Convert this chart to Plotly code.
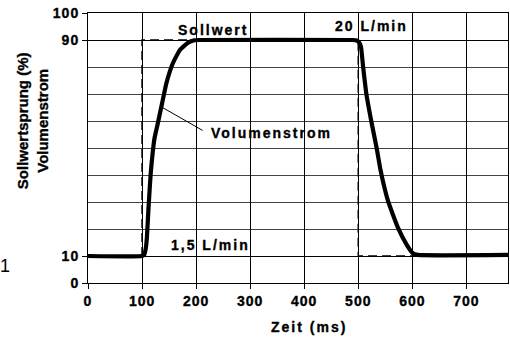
import plotly.graph_objects as go

# Volumenstrom (measured flow) curve, % vs ms
flow_t = [0, 100, 104, 107, 109, 112, 116, 119, 123, 129, 137, 145, 157, 170, 185, 197, 205,
          490, 497, 502, 505, 509, 515, 524, 534, 541, 555, 574, 590, 601, 610, 780]
flow_v = [10, 10, 10.5, 13, 17, 28, 40.6, 47, 53.6, 59, 66.5, 74, 81.4, 86.3, 89, 89.9, 90,
          90, 89.8, 89, 87.5, 80, 70, 60, 50, 42, 30.4, 20.2, 14, 11, 10.4, 10.4]

# Sollwert step (dashed)
set_t = [100, 100, 500, 500, 600]
set_v = [10, 90, 90, 10, 10]

y_ticks = [0, 10, 90, 100]
y_minor = [20, 30, 40, 50, 60, 70, 80]
x_ticks = [0, 100, 200, 300, 400, 500, 600, 700]

FONT = "Liberation Sans, Arial, sans-serif"

fig = go.Figure()
fig.add_trace(go.Scatter(x=set_t, y=set_v, mode="lines",
                         line=dict(color="black", width=1.5, dash="9px,5px"),
                         showlegend=False, hoverinfo="skip"))
fig.add_trace(go.Scatter(x=flow_t, y=flow_v, mode="lines",
                         line=dict(color="black", width=4.2, shape="spline", smoothing=0.4),
                         showlegend=False, hoverinfo="skip"))

# leader line to "Volumenstrom"
fig.add_trace(go.Scatter(x=[136, 212], y=[65.2, 56.5], mode="lines",
                         line=dict(color="black", width=1),
                         showlegend=False, hoverinfo="skip"))

tfont = dict(family=FONT, size=14, color="black", weight="bold")
fig.add_annotation(x=232, y=93.8, text="Sollwert", showarrow=False, font=tfont)
fig.add_annotation(x=524, y=95.3, text="20 L/min", showarrow=False, font=tfont)
fig.add_annotation(x=340, y=55.6, text="Volumenstrom", showarrow=False, font=tfont)
fig.add_annotation(x=226, y=14.2, text="1,5 L/min", showarrow=False, font=tfont)

# y-axis title (two lines, rotated)
fig.add_annotation(xref="paper", yref="paper", x=-0.133, y=0.6,
                   xanchor="center", yanchor="middle",
                   text="Sollwertsprung (%)<br>Volumenstrom", textangle=-90,
                   showarrow=False,
                   font=dict(family=FONT, size=15, color="black", weight="bold"))
# x-axis title
fig.add_annotation(xref="paper", yref="paper", x=0.525, y=-0.163,
                   xanchor="center", yanchor="middle",
                   text="Zeit (ms)", showarrow=False,
                   font=dict(family=FONT, size=14, color="black", weight="bold"))
# stray "1"
fig.add_annotation(xref="paper", yref="paper", x=-0.215, y=0.02, xanchor="left",
                   text="1", showarrow=False,
                   font=dict(family=FONT, size=18, color="black"))

fig.update_xaxes(range=[0, 777], tickvals=x_ticks,
                 ticks="outside", ticklen=5,
                 tickcolor="black", showline=True, linecolor="black", linewidth=1,
                 mirror=True, showgrid=True, gridcolor="black", gridwidth=1,
                 zeroline=False,
                 tickfont=dict(family=FONT, size=14, color="black", weight="bold"))
fig.update_yaxes(range=[0, 100], tickvals=y_ticks,
                 ticks="outside", ticklen=5,
                 tickcolor="black", showline=True, linecolor="black", linewidth=1,
                 mirror=True, showgrid=True, gridcolor="black", gridwidth=1,
                 zeroline=False,
                 minor=dict(tickvals=y_minor, showgrid=True,
                            gridcolor="#444444", gridwidth=1, ticks=""),
                 tickfont=dict(family=FONT, size=14, color="black", weight="bold"))

fig.update_layout(width=510, height=338, margin=dict(l=88, r=2, t=13, b=55),
                  paper_bgcolor="white", plot_bgcolor="white", showlegend=False)

post = """
document.body.style.margin = '0';
function styleText() {
  document.querySelectorAll('.xtick text, .ytick text').forEach(function (t) {
    t.style.letterSpacing = '1px';
    t.style.stroke = 'black';
    t.style.strokeWidth = '0.35px';
  });
  document.querySelectorAll('.annotation-text').forEach(function (t) {
    var s = t.textContent;
    if (s === '1') return;
    t.style.stroke = 'black';
    t.style.strokeWidth = '0.35px';
    if (s.indexOf('Sollwertsprung') === -1) {
      t.style.letterSpacing = '2px';
    }
  });
}
styleText();
setTimeout(styleText, 50);
"""

fig.write_html("out.html", post_script=post, config={"displayModeBar": False})
